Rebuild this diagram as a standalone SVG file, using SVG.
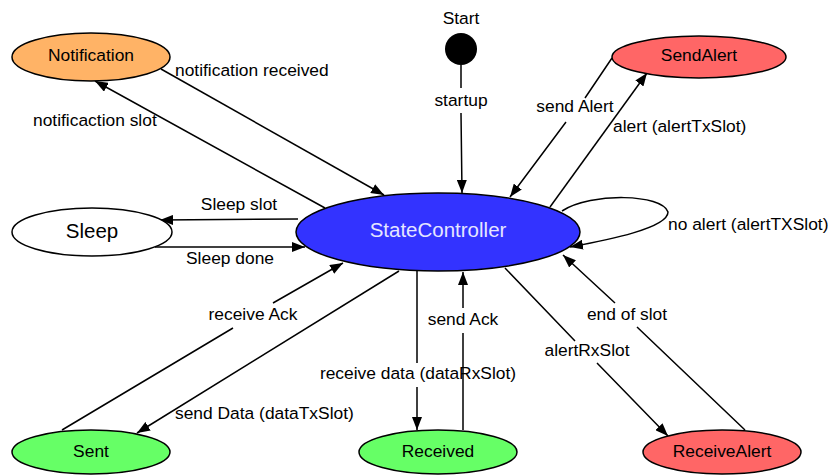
<svg xmlns="http://www.w3.org/2000/svg" width="828" height="476" viewBox="0 0 828 476">
  <style>
    .node { stroke: #000; stroke-width: 1.5; }
    .edge { fill: none; stroke: #000; stroke-width: 1.5; marker-end: url(#arrow); }
    text { font-family: "Liberation Sans", Arial, sans-serif; fill: #000; }
    .lbl { font-size: 17.4px; }
    .ntxt { font-size: 17.4px; text-anchor: middle; }
    .big { font-size: 20.5px; text-anchor: middle; }
  </style>
  <defs>
    <marker id="arrow" markerUnits="userSpaceOnUse" markerWidth="14" markerHeight="10" refX="13" refY="5" orient="auto">
      <path d="M0,0 L13,5 L0,10 z" fill="#000"/>
    </marker>
  </defs>
  <rect width="828" height="476" fill="#fff"/>

  <g id="connectors">
    <!-- startup -->
    <path class="edge" d="M461,65 L461,88 M461,113 L462,193"/>
    <!-- notification received -->
    <path class="edge" d="M161,69 L384,195"/>
    <!-- notificaction slot -->
    <path class="edge" d="M325,208 L95,81"/>
    <!-- send Alert -->
    <path class="edge" d="M612,58 L585,98 M566,122 L510,197"/>
    <!-- alert (alertTxSlot) -->
    <path class="edge" d="M550,207 L647,73"/>
    <!-- no alert (alertTXSlot) self loop -->
    <path class="edge" d="M562,211 C592,192 662,194 668,212 C668,228 608,240 570,247"/>
    <!-- Sleep slot -->
    <path class="edge" d="M298,219 L160,220"/>
    <!-- Sleep done -->
    <path class="edge" d="M155,247 L305,247"/>
    <!-- receive Ack -->
    <path class="edge" d="M62,430 L233,328 M273,303 L343,263"/>
    <!-- send Data (dataTxSlot) -->
    <path class="edge" d="M399,271 L137,433"/>
    <!-- receive data (dataRxSlot) -->
    <path class="edge" d="M417,271 L417,363 M417,387 L417,430"/>
    <!-- send Ack -->
    <path class="edge" d="M463,430 L463,333 M463,308 L463,272"/>
    <!-- alertRxSlot -->
    <path class="edge" d="M505,268 L575,341 M597,363 L668,436"/>
    <!-- end of slot -->
    <path class="edge" d="M745,430 L637,327 M615,303 L563,255"/>
  </g>

  <g id="labels">
    <text class="lbl" x="461" y="106" text-anchor="middle">startup</text>
    <text class="lbl" x="175" y="76">notification received</text>
    <text class="lbl" x="33" y="126">notificaction slot</text>
    <text class="lbl" x="575" y="112" text-anchor="middle">send Alert</text>
    <text class="lbl" x="613" y="132">alert (alertTxSlot)</text>
    <text class="lbl" x="668" y="230">no alert (alertTXSlot)</text>
    <text class="lbl" x="239" y="210" text-anchor="middle">Sleep slot</text>
    <text class="lbl" x="230" y="264" text-anchor="middle">Sleep done</text>
    <text class="lbl" x="253" y="320" text-anchor="middle">receive Ack</text>
    <text class="lbl" x="175" y="419">send Data (dataTxSlot)</text>
    <text class="lbl" x="418" y="379" text-anchor="middle">receive data (dataRxSlot)</text>
    <text class="lbl" x="463" y="325" text-anchor="middle">send Ack</text>
    <text class="lbl" x="587" y="356" text-anchor="middle">alertRxSlot</text>
    <text class="lbl" x="627" y="320" text-anchor="middle">end of slot</text>
  </g>

  <g id="start">
    <circle cx="461" cy="49" r="16" fill="#000"/>
    <text class="ntxt" x="461" y="24">Start</text>
  </g>
  <g id="notification">
    <ellipse class="node" cx="91" cy="57" rx="79" ry="24" fill="#FFB366"/>
    <text class="ntxt" x="91" y="61">Notification</text>
  </g>
  <g id="sendalert">
    <ellipse class="node" cx="699" cy="57" rx="87" ry="21" fill="#FF6666"/>
    <text class="ntxt" x="699" y="61">SendAlert</text>
  </g>
  <g id="sleep">
    <ellipse class="node" cx="92" cy="232" rx="80" ry="24" fill="#fff"/>
    <text class="big" x="92" y="238">Sleep</text>
  </g>
  <g id="statecontroller">
    <ellipse class="node" cx="438" cy="232" rx="142" ry="39" fill="#3333FF"/>
    <text class="big" x="438" y="237" style="fill:#E6E6FF">StateController</text>
  </g>
  <g id="sent">
    <ellipse class="node" cx="91" cy="452" rx="79" ry="22" fill="#66FF66"/>
    <text class="ntxt" x="91" y="457">Sent</text>
  </g>
  <g id="received">
    <ellipse class="node" cx="438" cy="452" rx="79" ry="22" fill="#66FF66"/>
    <text class="ntxt" x="438" y="457">Received</text>
  </g>
  <g id="receivealert">
    <ellipse class="node" cx="722" cy="452" rx="79" ry="22" fill="#FF6666"/>
    <text class="ntxt" x="722" y="457">ReceiveAlert</text>
  </g>
</svg>
